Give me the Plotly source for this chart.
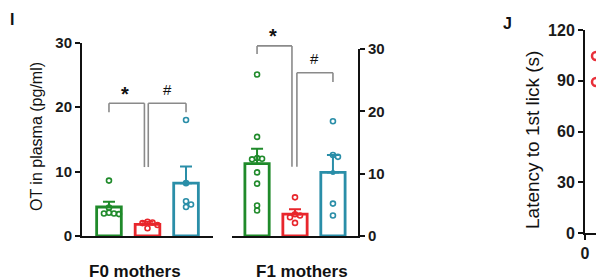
import plotly.graph_objects as go

W, H = 596, 280

# ---------------- data ----------------
groups = ["Group 1", "Group 2", "Group 3"]
colors = ["#1f8a2a", "#e8262c", "#2a8ea8"]

f0_means = [4.5, 1.8, 8.2]
f0_sem = [0.8, 0.4, 2.6]
f0_points = [
    [8.6, 4.4, 3.6, 3.5, 3.5, 3.4],
    [2.2, 2.1, 2.0, 1.7, 1.2],
    [18.0, 8.2, 5.4, 4.9, 4.5],
]

f1_means = [11.6, 3.5, 10.2]
f1_sem = [2.4, 0.8, 2.8]
f1_points = [
    [25.9, 15.9, 12.5, 12.4, 12.3, 10.2, 8.4, 4.9, 4.1],
    [6.2, 3.5, 3.3, 3.0, 2.1],
    [18.4, 13.0, 12.7, 5.2, 3.3],
]

ot_ticks = [0, 10, 20, 30]
lat_ticks = [0, 30, 60, 90, 120]
lat_x = [1.0, 1.0]
lat_points = [104.6, 89.3]
panel_labels = ["F0 mothers", "F1 mothers"]

# ---------------- layout geometry (pixels) ----------------
def px_x(p):
    return p / W

def px_y(p):
    return 1 - p / H

L_dom = [px_x(82), px_x(213)]
L_ydom = [px_y(236), px_y(42.7)]
L_xr = [-0.70, 2.70]
R_dom = [px_x(232), px_x(358)]
R_ydom = [px_y(236), px_y(49)]
R_xr = [-0.66, 2.66]
J_dom = [px_x(585), 1.0]
J_ydom = [px_y(233), px_y(30)]
YR = [0, 30]


def to_paper(x, y, xdom, xr, ydom, yr):
    px = xdom[0] + (x - xr[0]) / (xr[1] - xr[0]) * (xdom[1] - xdom[0])
    py = ydom[0] + (y - yr[0]) / (yr[1] - yr[0]) * (ydom[1] - ydom[0])
    return px, py


def swarm(vals, ppx, ppy, d=5.0, mind=4.2):
    placed = []
    offs = []
    for v in vals:
        for k in [0, 1, -1, 2, -2, 3, -3]:
            ox = k * d
            ok = all(((ox - a) ** 2 + (v * ppy - b) ** 2) ** 0.5 >= mind for a, b in placed)
            if ok:
                break
        placed.append((ox, v * ppy))
        offs.append(ox / ppx)
    return offs


fig = go.Figure()

panels = [
    ("x", "y", f0_means, f0_sem, f0_points, L_dom, L_xr, L_ydom),
    ("x2", "y2", f1_means, f1_sem, f1_points, R_dom, R_xr, R_ydom),
]

for xa, ya, means, sem, pts, xdom, xr, ydom in panels:
    ppx = (xdom[1] - xdom[0]) * W / (xr[1] - xr[0])
    ppy = (ydom[1] - ydom[0]) * H / (YR[1] - YR[0])
    for i in range(3):
        fig.add_trace(go.Bar(
            x=[i], y=[means[i]], width=0.64, xaxis=xa, yaxis=ya,
            marker=dict(color="white", line=dict(color=colors[i], width=2.8)),
            error_y=dict(type="data", symmetric=False, array=[sem[i]], arrayminus=[0],
                         color=colors[i], thickness=2, width=6),
            showlegend=False, hoverinfo="skip",
        ))
    for i in range(3):
        offs = swarm(pts[i], ppx, ppy)
        fig.add_trace(go.Scatter(
            x=[i + o for o in offs], y=pts[i], xaxis=xa, yaxis=ya, mode="markers",
            marker=dict(symbol="circle-open", size=5, color=colors[i], line=dict(width=1.6)),
            showlegend=False, cliponaxis=False,
        ))
    fig.add_trace(go.Scatter(
        x=[2], y=[means[2]], xaxis=xa, yaxis=ya, mode="markers",
        marker=dict(size=5, color=colors[2]), showlegend=False, cliponaxis=False,
    ))

fig.add_trace(go.Scatter(
    x=lat_x, y=lat_points, xaxis="x3", yaxis="y3", mode="markers",
    marker=dict(symbol="circle-open", size=8, color="#e8303a", line=dict(width=2.5)),
    showlegend=False, cliponaxis=False,
))

tickfont = dict(family="Liberation Sans, Arial", size=15, color="#1a1a1a", weight="bold")
jfont = dict(family="Liberation Sans, Arial", size=16, color="#1a1a1a", weight="bold")
axline = dict(showline=True, linecolor="#111", linewidth=2, showgrid=False, zeroline=False)

fig.update_layout(
    width=W, height=H, margin=dict(l=0, r=0, t=0, b=0, autoexpand=False),
    paper_bgcolor="white", plot_bgcolor="rgba(0,0,0,0)", barmode="overlay",
    xaxis=dict(domain=L_dom, range=L_xr, anchor="y", showticklabels=False, ticks="", **axline),
    yaxis=dict(domain=L_ydom, range=YR, anchor="x", tickvals=ot_ticks, ticks="outside",
               ticklen=5, tickwidth=2, tickcolor="#111", tickfont=tickfont, **axline),
    xaxis2=dict(domain=R_dom, range=R_xr, anchor="y2", showticklabels=False, ticks="", **axline),
    yaxis2=dict(domain=R_ydom, range=YR, anchor="x2", side="right", tickvals=ot_ticks,
                ticks="outside", ticklen=5, tickwidth=2, tickcolor="#111", tickfont=tickfont, **axline),
    xaxis3=dict(domain=J_dom, range=[0, 1], anchor="y3", tickvals=[0], ticks="outside",
                ticklen=5, tickwidth=2, tickcolor="#111", tickfont=jfont, **axline),
    yaxis3=dict(domain=J_ydom, range=[0, 120], anchor="x3", tickvals=lat_ticks, ticks="outside",
                ticklen=5, tickwidth=2, tickcolor="#111", tickfont=jfont, **axline),
)

gray = dict(color="#8a8a8a", width=1.6)

def seg(x0, y0, x1, y1, xdom, xr, ydom):
    a = to_paper(x0, y0, xdom, xr, ydom, YR)
    b = to_paper(x1, y1, xdom, xr, ydom, YR)
    fig.add_shape(type="line", xref="paper", yref="paper", x0=a[0], y0=a[1], x1=b[0], y1=b[1],
                  line=gray)

seg(0, 19.2, 0, 20.6, L_dom, L_xr, L_ydom)
seg(0, 20.6, 0.92, 20.6, L_dom, L_xr, L_ydom)
seg(0.92, 20.6, 0.92, 10.7, L_dom, L_xr, L_ydom)
seg(1.02, 10.7, 1.02, 20.6, L_dom, L_xr, L_ydom)
seg(1.02, 20.6, 2.0, 20.6, L_dom, L_xr, L_ydom)
seg(2.0, 20.6, 2.0, 19.2, L_dom, L_xr, L_ydom)
seg(0, 29.2, 0, 30.5, R_dom, R_xr, R_ydom)
seg(0, 30.5, 0.92, 30.5, R_dom, R_xr, R_ydom)
seg(0.92, 30.5, 0.92, 11.1, R_dom, R_xr, R_ydom)
seg(1.05, 11.1, 1.05, 26.2, R_dom, R_xr, R_ydom)
seg(1.05, 26.2, 2.0, 26.2, R_dom, R_xr, R_ydom)
seg(2.0, 26.2, 2.0, 24.7, R_dom, R_xr, R_ydom)


def ann(text, x, y, size, bold=False, angle=0, family="Liberation Sans, Arial"):
    fig.add_annotation(text=text, x=px_x(x), y=px_y(y), xref="paper", yref="paper",
                       showarrow=False, textangle=angle, xanchor="center", yanchor="middle",
                       font=dict(family=family, size=size, color="#111",
                                 weight="bold" if bold else "normal"))

ann("*", 125, 94, 20, bold=True)
ann("#", 167, 89, 15)
ann("*", 273, 36, 20, bold=True)
ann("#", 314, 58, 15)

ann("I", 12, 20, 16, bold=True)
ann("J", 507, 23, 16, bold=True)
ann("OT in plasma (pg/ml)", 36, 137, 16, angle=-90)
ann("Latency to 1st lick (s)", 532, 140, 19, angle=-90)
ann(panel_labels[0], 135, 271, 17, bold=True)
ann(panel_labels[1], 302, 271, 17, bold=True)

fig.write_html("out.html", config={"displayModeBar": False},
               post_script="document.body.style.margin='0';document.body.style.overflow='hidden';")
